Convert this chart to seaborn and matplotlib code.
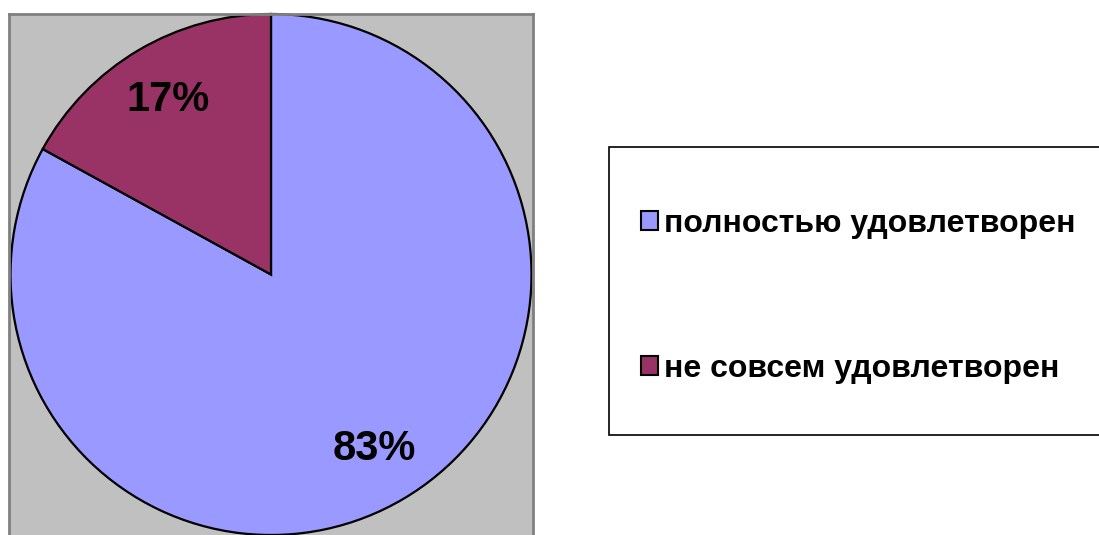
import matplotlib
matplotlib.use("Agg")
import matplotlib.pyplot as plt
import seaborn as sns
from matplotlib.patches import Rectangle, Patch

# Data
labels = ["полностью удовлетворен", "не совсем удовлетворен"]
values = [83, 17]
colors = ["#9999FF", "#993366"]

sns.set_theme(style="white")
plt.rcParams["font.family"] = ["Liberation Sans", "DejaVu Sans"]
plt.rcParams["font.weight"] = "bold"
plt.rcParams["text.color"] = "black"

W, H = 1099, 535
fig = plt.figure(figsize=(W / 100, H / 100), dpi=100)
fig.patch.set_facecolor("white")

# plot area in pixels: x 9..533, y 14..535
ax = fig.add_axes([9 / W, 0, 524 / W, 521 / H])

wedges, texts, autotexts = ax.pie(
    values, colors=colors, startangle=90, counterclock=False,
    autopct="%1.0f%%", pctdistance=0.78, frame=True,
    wedgeprops=dict(edgecolor="black", linewidth=1.6),
    textprops=dict(fontsize=30, fontweight="bold", color="black"),
)
ax.set_facecolor("#C0C0C0")
ax.set_aspect("auto")
ax.set_ylim(-1.0, 1.0)
ax.set_xlim(-1.0 * 524 / 521, 1.0 * 524 / 521)
ax.set_xticks([])
ax.set_yticks([])
for side in ["left", "top", "right"]:
    ax.spines[side].set_visible(True)
    ax.spines[side].set_color("#808080")
    ax.spines[side].set_linewidth(2)
ax.spines["bottom"].set_visible(False)

# legend frame
fig.patches.append(Rectangle((609 / W, 1 - 435 / H), (W + 10 - 609) / W, (435 - 147) / H,
                             transform=fig.transFigure, facecolor="white",
                             edgecolor="black", linewidth=1.2, zorder=0))

handles = [Patch(facecolor=c, edgecolor="black", linewidth=1.5) for c in colors]
leg = fig.legend(handles, labels, loc="upper left",
                 bbox_to_anchor=(641 / W, 1 - 209 / H),
                 frameon=False, prop=dict(weight="bold", size=23),
                 handlelength=0.52, handleheight=0.52, handletextpad=0.2,
                 labelspacing=3.6, borderpad=0, borderaxespad=0)
for t in leg.get_texts():
    t.set_color("black")

fig.savefig("out.png", dpi=100)
